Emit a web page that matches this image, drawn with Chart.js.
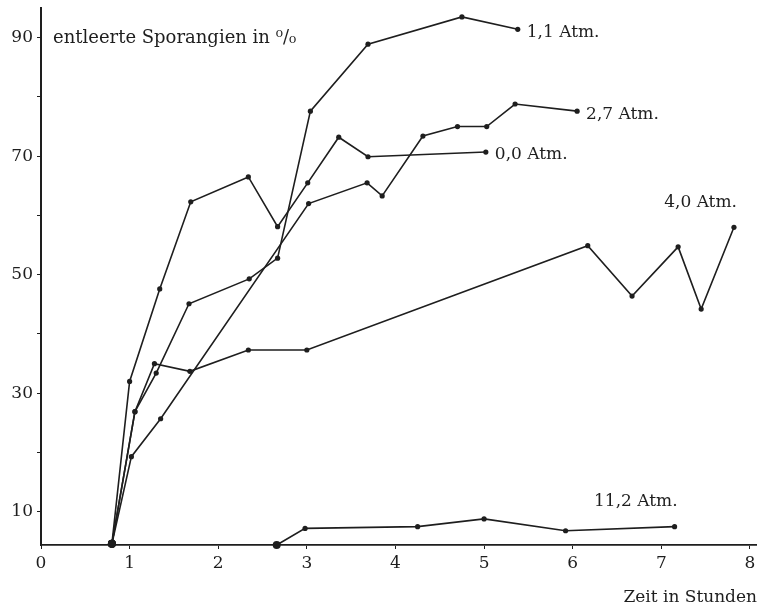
<!DOCTYPE html>
<html>
<head>
<meta charset="utf-8">
<script src="https://cdn.jsdelivr.net/npm/chart.js@4.4.1/dist/chart.umd.min.js"></script>
<style>
    body { margin: 0; background: #fff; }
    #chart { display: block; }
</style>
</head>
<body>
<canvas id="chart" width="757" height="612"></canvas>
<script>
// values (hours, % of emptied sporangia)
const xTicks = [0, 1, 2, 3, 4, 5, 6, 7, 8];
const yTicks = [10, 20, 30, 40, 50, 60, 70, 80, 90];
const yLabelled = [10, 30, 50, 70, 90];

const seriesNames = ['1,1 Atm.', '2,7 Atm.', '0,0 Atm.', '4,0 Atm.', '11,2 Atm.'];
const labelSide = ['right', 'right', 'right', 'above', 'above'];

const atm11x = [0.80, 1.06, 1.30, 1.67, 2.35, 2.67, 3.04, 3.69, 4.75, 5.38];
const atm11y = [4.6, 26.9, 33.4, 45.1, 49.3, 52.8, 77.6, 88.9, 93.5, 91.4];

const atm27x = [0.80, 1.02, 1.35, 3.02, 3.68, 3.85, 4.31, 4.70, 5.03, 5.35, 6.05];
const atm27y = [4.6, 19.3, 25.7, 62.0, 65.5, 63.3, 73.4, 75.0, 75.0, 78.8, 77.6];

const atm00x = [0.80, 1.00, 1.34, 1.69, 2.34, 2.67, 3.01, 3.36, 3.69, 5.02];
const atm00y = [4.6, 32.0, 47.6, 62.3, 66.5, 58.1, 65.5, 73.2, 69.9, 70.7];

const atm40x = [0.80, 1.06, 1.28, 1.68, 2.34, 3.00, 6.17, 6.67, 7.19, 7.45, 7.82];
const atm40y = [4.6, 26.9, 35.0, 33.7, 37.3, 37.3, 54.9, 46.4, 54.7, 44.2, 58.0];

const atm112x = [2.66, 2.98, 4.25, 5.00, 5.92, 7.15];
const atm112y = [4.4, 7.2, 7.5, 8.8, 6.8, 7.5];

const yTitle = 'entleerte Sporangien in \u2070/\u2080';
const xTitle = 'Zeit in Stunden';

const ink = '#1e1e1e';
const serif = 'DejaVu Serif';
const yMin = 4.4;

function pairs(xs, ys) {
    let out = [];
    for (let i = 0; i < xs.length; i++) {
        out.push({x: xs[i], y: ys[i]});
    }
    return out;
}

function series(label, xs, ys) {
    return {
        label: label,
        data: pairs(xs, ys),
        borderColor: ink,
        backgroundColor: ink,
        borderWidth: 1.6,
        pointRadius: c => (c.raw && c.raw.y < 5 ? 4 : 2.6),
        pointBorderWidth: 0,
        tension: 0,
        clip: false
    }
}

// curve names and the y axis caption
const textPlugin = {
    id: 'curveText',
    afterDatasetsDraw(chart) {
        const ctx = chart.ctx;
        const xs = chart.scales.x;
        const ys = chart.scales.y;
        ctx.save();
        ctx.fillStyle = ink;
        ctx.font = '17px "' + serif + '"';
        ctx.textBaseline = 'middle';
        chart.data.datasets.forEach((ds, i) => {
            const last = ds.data[ds.data.length - 1];
            const px = xs.getPixelForValue(last.x);
            const py = ys.getPixelForValue(last.y);
            if (labelSide[i] === 'right') {
                ctx.textAlign = 'left';
                ctx.fillText(seriesNames[i], px + 9, py + 3);
            } else {
                ctx.textAlign = 'right';
                ctx.fillText(seriesNames[i], px + 3, py - 25);
            }
        });
        ctx.textAlign = 'left';
        ctx.font = '18px "' + serif + '"';
        ctx.fillText(yTitle, chart.chartArea.left + 12, ys.getPixelForValue(90) + 1);
        ctx.restore();
    }
};

new Chart(document.getElementById('chart').getContext('2d'), {
    type: 'line',
    data: {
        datasets: [
            series(seriesNames[0], atm11x, atm11y),
            series(seriesNames[1], atm27x, atm27y),
            series(seriesNames[2], atm00x, atm00y),
            series(seriesNames[3], atm40x, atm40y),
            series(seriesNames[4], atm112x, atm112y)
        ]
    },
    options: {
        responsive: false,
        animation: false,
        devicePixelRatio: 1,
        layout: {autoPadding: false, padding: {top: 8, right: 0, bottom: 0, left: 0}},
        plugins: {legend: {display: false}, tooltip: {enabled: false}},
        scales: {
            x: {
                type: 'linear',
                min: 0,
                max: 8.08,
                afterBuildTicks: s => { s.ticks = xTicks.map(v => ({value: v})) },
                afterFit: s => {
                    s.height = 67;
                    s.paddingLeft = 0;
                    s.paddingRight = 0;
                },
                border: {display: true, color: ink, width: 1.8},
                grid: {drawOnChartArea: false, drawTicks: true, tickLength: 4, color: ink, lineWidth: 1},
                ticks: {
                    color: ink,
                    padding: 4,
                    font: {family: serif, size: 17},
                    callback: v => v
                },
                title: {
                    display: true,
                    text: xTitle,
                    align: 'end',
                    color: ink,
                    padding: {top: 0, bottom: 4},
                    font: {family: serif, size: 17}
                }
            },
            y: {
                type: 'linear',
                min: yMin,
                max: 95,
                afterBuildTicks: s => { s.ticks = yTicks.map(v => ({value: v})) },
                afterFit: s => {
                    s.width = 41;
                    s.paddingTop = 0;
                    s.paddingBottom = 0;
                },
                border: {display: true, color: ink, width: 2},
                grid: {drawOnChartArea: false, drawTicks: true, tickLength: 4, color: ink, lineWidth: 1},
                ticks: {
                    color: ink,
                    padding: 4,
                    font: {family: serif, size: 17},
                    callback: v => (yLabelled.includes(v) ? v : '')
                }
            }
        }
    },
    plugins: [textPlugin]
});
</script>
</body>
</html>
